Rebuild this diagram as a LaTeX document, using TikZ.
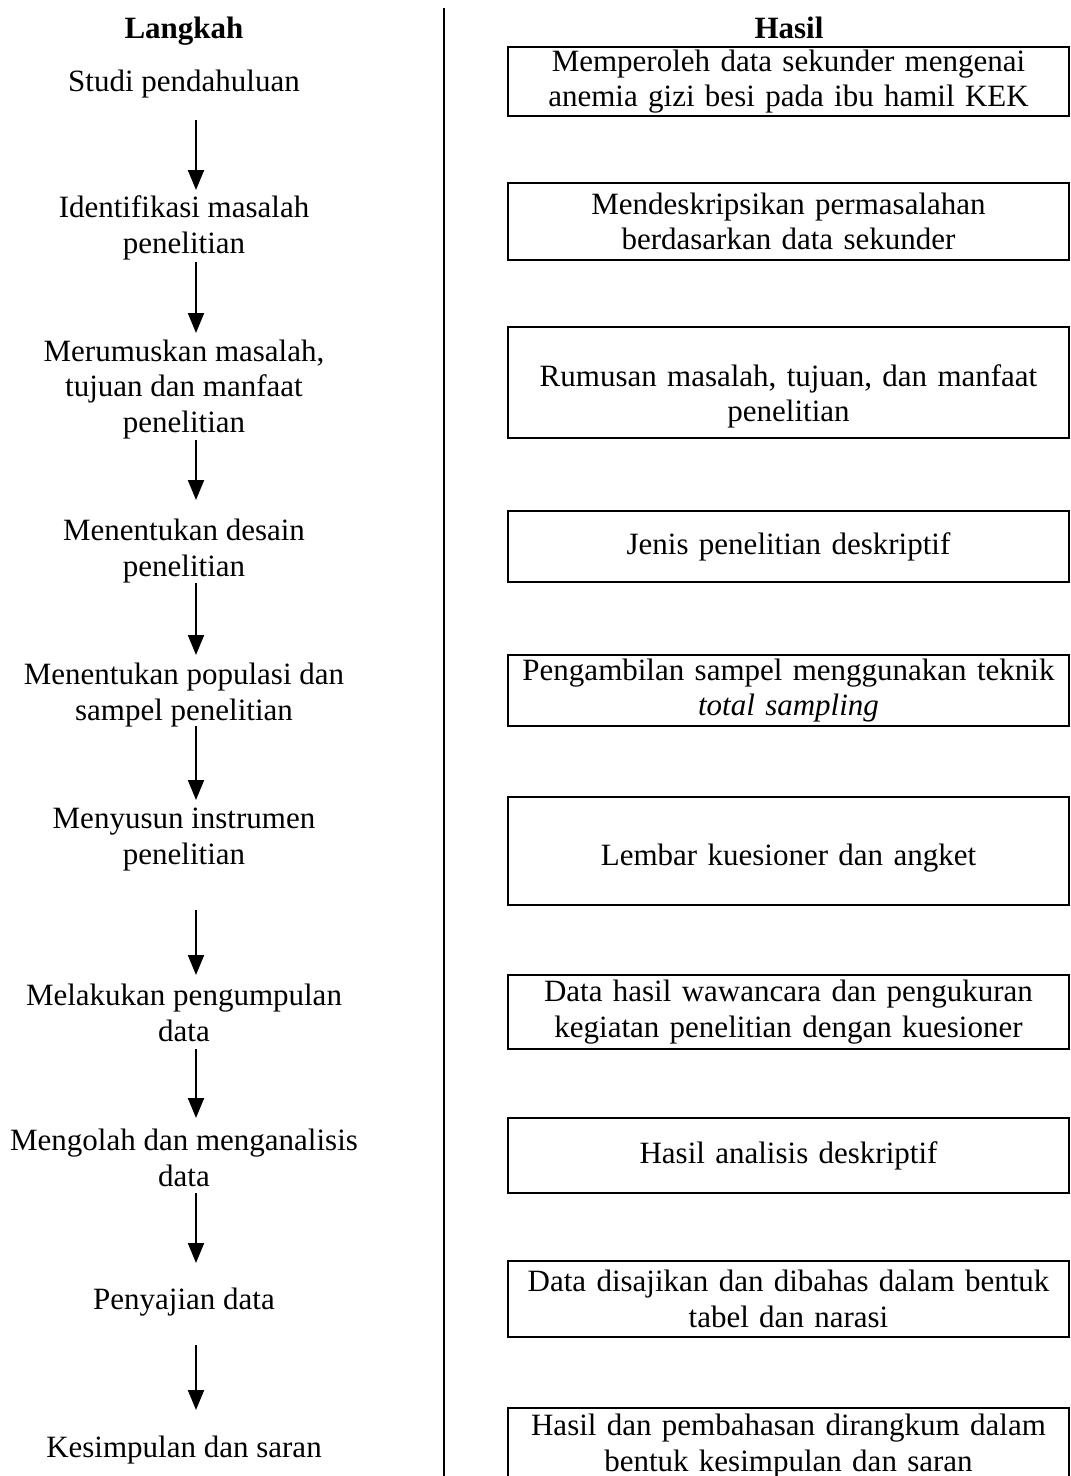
\documentclass[tikz,border=0pt]{standalone}
\usepackage{fontspec}
\setmainfont{Liberation Serif}
\usetikzlibrary{arrows.meta}
\begin{document}
\begin{tikzpicture}[x=1pt,y=-1pt,
  txt/.style={inner sep=0pt, align=center, font=\fontsize{31}{35.5}\selectfont, text height=22pt, text depth=8pt},
  hdr/.style={inner sep=0pt, font=\fontsize{31}{35.5}\selectfont\bfseries, text height=22pt, text depth=8pt},
  res/.style={draw, line width=2pt, inner sep=0pt, align=center, minimum width=561pt, text width=555pt, font=\fontsize{31}{35.5}\selectfont},
  arr/.style={line width=2pt, -{Triangle[width=16pt,length=20pt]}},
  divider/.style={line width=2pt}]
\useasboundingbox (0,0) rectangle (1071,1476);
\clip (0,0) rectangle (1071,1476);
% headers
\node[hdr] (hL) at (184,31) {Langkah};
\node[hdr] (hR) at (789,31) {Hasil};
% divider
\coordinate (dTop) at (444,8);
\coordinate (dBot) at (444,1480);
\draw[divider] (dTop) -- (dBot);
% steps (node y pinned near the last line)
\node[txt] (s1) at (184,84) {Studi pendahuluan};
\node[txt] (s2) at (184,246) {Identifikasi masalah\\penelitian};
\node[txt] (s3) at (184,425) {Merumuskan masalah,\\tujuan dan manfaat\\penelitian};
\node[txt] (s4) at (184,569) {Menentukan desain\\penelitian};
\node[txt] (s5) at (184,713) {Menentukan populasi dan\\sampel penelitian};
\node[txt] (s6) at (184,857) {Menyusun instrumen\\penelitian};
\node[txt] (s7) at (184,1034) {Melakukan pengumpulan\\data};
\node[txt] (s8) at (184,1179) {Mengolah dan menganalisis\\data};
\node[txt] (s9) at (184,1302) {Penyajian data};
\node[txt] (s10) at (184,1450) {Kesimpulan dan saran};
% results
\node[res, minimum height=69pt] (r1) at (788.5,81.5) {Memperoleh data sekunder mengenai\\anemia gizi besi pada ibu hamil KEK};
\node[res, minimum height=77pt] (r2) at (788.5,221.5) {Mendeskripsikan permasalahan\\berdasarkan data sekunder};
\node[res, minimum height=111pt, text depth=14pt] (r3) at (788.5,382.5) {Rumusan masalah, tujuan, dan manfaat\\penelitian};
\node[res, minimum height=71pt] (r4) at (788.5,546.5) {Jenis penelitian deskriptif};
\node[res, minimum height=71pt] (r5) at (788.5,690.5) {Pengambilan sampel menggunakan teknik\\\textit{total sampling}};
\node[res, minimum height=108pt, text height=35pt] (r6) at (788.5,851) {Lembar kuesioner dan angket};
\node[res, minimum height=74pt] (r7) at (788.5,1012) {Data hasil wawancara dan pengukuran\\kegiatan penelitian dengan kuesioner};
\node[res, minimum height=75pt] (r8) at (788.5,1155.5) {Hasil analisis deskriptif};
\node[res, minimum height=76pt] (r9) at (788.5,1299) {Data disajikan dan dibahas dalam bentuk\\tabel dan narasi};
\node[res, minimum height=76pt] (r10) at (788.5,1446) {Hasil dan pembahasan dirangkum dalam\\bentuk kesimpulan dan saran};
% arrows
\foreach \i/\ya/\yb in {1/120/190, 2/262/333, 3/440/500, 4/583/655, 5/726/800, 6/910/975, 7/1049/1118, 8/1193/1263, 9/1345/1410} {
  \coordinate (a\i s) at (196,\ya);
  \coordinate (a\i e) at (196,\yb);
  \draw[arr] (a\i s) -- (a\i e);
}
\end{tikzpicture}
\end{document}
